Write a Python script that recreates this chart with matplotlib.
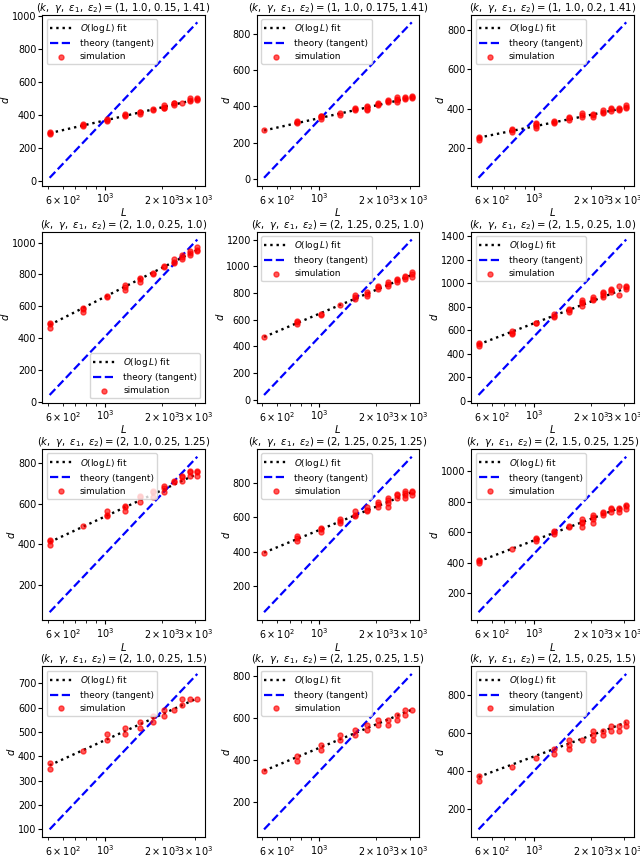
import matplotlib
matplotlib.use('Agg')
import matplotlib.pyplot as plt

# system sizes L (same for every panel)
L_values = [512, 768, 1024, 1280, 1536, 1792, 2048, 2304, 2560, 2816, 3072]

# (k, gamma, eps1, eps2) per panel, row by row
params = [
    ("1", "1.0", "0.15", "1.41"),
    ("1", "1.0", "0.175", "1.41"),
    ("1", "1.0", "0.2", "1.41"),
    ("2", "1.0", "0.25", "1.0"),
    ("2", "1.25", "0.25", "1.0"),
    ("2", "1.5", "0.25", "1.0"),
    ("2", "1.0", "0.25", "1.25"),
    ("2", "1.25", "0.25", "1.25"),
    ("2", "1.5", "0.25", "1.25"),
    ("2", "1.0", "0.25", "1.5"),
    ("2", "1.25", "0.25", "1.5"),
    ("2", "1.5", "0.25", "1.5"),
]

# O(log L) fit, value at first and last L
fit_ends = [
    (290, 495), (267, 450), (253, 405),
    (482, 955), (470, 935), (479, 960),
    (411, 748), (396, 746), (408, 775),
    (363, 638), (348, 638), (369, 657),
]

# theory (tangent), value at first and last L
theory_ends = [
    (20, 960), (5, 866), (50, 837),
    (41, 1020), (35, 1200), (48, 1374),
    (66, 832), (51, 951), (75, 1095),
    (100, 738), (69, 808), (92, 913),
]

# simulation runs: one list of d values per L
sim = [
    [[285, 295, 290], [335, 345, 340], [365, 375, 370], [395, 405, 400], [405, 415, 420],
     [432, 435], [440, 450, 460, 445], [460, 470, 475], [475], [490, 500, 485], [490, 500, 495]],
    [[268], [310, 320, 315], [330, 340, 350, 345], [355, 365], [380, 390, 385],
     [385, 395, 405, 380], [410, 415, 420], [425, 435, 430], [425, 440, 450, 435], [440, 445, 450], [445, 455, 460]],
    [[240, 250, 255], [280, 290, 295], [300, 310, 320, 325], [325, 330, 335], [345, 355, 360],
     [360, 370, 380], [360, 370, 375], [380, 385, 395], [390, 400, 405], [395, 400, 405], [405, 410, 420]],
    [[465, 490, 495], [565, 580, 590], [660, 665], [705, 720, 735], [755, 770, 780],
     [805, 810], [850, 855], [870, 880, 900], [900, 910, 925], [920, 935, 950], [945, 955, 970]],
    [[468], [565, 580, 590], [635, 640], [710], [755, 770, 785],
     [780, 795, 810], [830, 845, 855], [855, 870, 880], [880, 895, 905], [905, 920, 930], [920, 940, 955]],
    [[465, 480, 490], [565, 580, 590], [660, 665], [710, 720, 735], [760, 775, 785],
     [810, 830, 845, 855], [855, 870, 880], [880, 900, 915, 930], [925, 940, 950], [900, 975], [950, 965, 975]],
    [[395, 420, 415], [490], [540, 545, 565], [565, 585, 590], [610, 635, 640],
     [635, 660, 665], [660, 680, 690], [705, 710], [710, 730, 735], [735, 755, 760], [735, 755, 760]],
    [[395], [465, 480, 490], [515, 535, 540], [565, 580, 590], [610, 615, 635],
     [635, 645, 660], [660, 680, 690], [660, 685, 700, 710], [710, 730, 735], [710, 730, 740, 755], [730, 745, 755]],
    [[395, 410, 420], [490], [540, 555, 565], [590, 600, 610], [635, 640],
     [635, 660, 670, 685], [660, 685, 700, 710], [710, 725, 735], [735, 750, 760], [735, 750, 760], [755, 770, 780]],
    [[348, 372], [420], [468, 492], [492, 516], [516, 540],
     [540, 564], [564, 588], [588], [612, 636], [636], [636]],
    [[348], [396, 420], [444, 468], [492, 516], [516, 540],
     [540, 564], [564, 588], [564, 588], [588, 612], [612, 636], [636]],
    [[348, 372], [420], [468], [492, 516], [516, 540, 564],
     [564], [564, 588, 612], [588, 612], [612, 636], [612, 636], [636, 660]],
]

legend_loc = ["upper left"] * 12
legend_loc[3] = "lower right"

fig, axes = plt.subplots(4, 3, figsize=(6.4, 8.56), dpi=100)
fig.subplots_adjust(left=0.066, right=0.99, top=0.983, bottom=0.022,
                    wspace=0.32, hspace=0.27)

for i, ax in enumerate(axes.flat):
    k, g, e1, e2 = params[i]
    xs, ys = [], []
    for L, runs in zip(L_values, sim[i]):
        for d in runs:
            xs.append(L)
            ys.append(d)
    ends = [L_values[0], L_values[-1]]
    ax.plot(ends, fit_ends[i], color='black', linestyle=':', linewidth=1.7,
            label=r'$O(\log L)$ fit')
    ax.plot(ends, theory_ends[i], color='blue', linestyle='--', linewidth=1.6,
            label='theory (tangent)')
    ax.scatter(xs, ys, color='red', alpha=0.65, s=13, zorder=3,
               label='simulation')
    ax.set_xscale('log')
    ax.set_title(r'$(k,\ \gamma,\ \varepsilon_1,\ \varepsilon_2) = $(%s, %s, %s, %s)'
                 % (k, g, e1, e2), fontsize=7.3, pad=2.5)
    ax.set_xlabel(r'$L$', fontsize=7.2, labelpad=-0.5)
    ax.set_ylabel(r'$d$', fontsize=7.2, labelpad=0.5)
    ax.tick_params(labelsize=6.9, pad=1.2, length=3)
    ax.tick_params(which='minor', labelsize=6.9, length=2)
    ax.legend(loc=legend_loc[i], fontsize=6.4, handlelength=2.6,
              borderpad=0.35, labelspacing=0.45)

plt.savefig("out.png")
